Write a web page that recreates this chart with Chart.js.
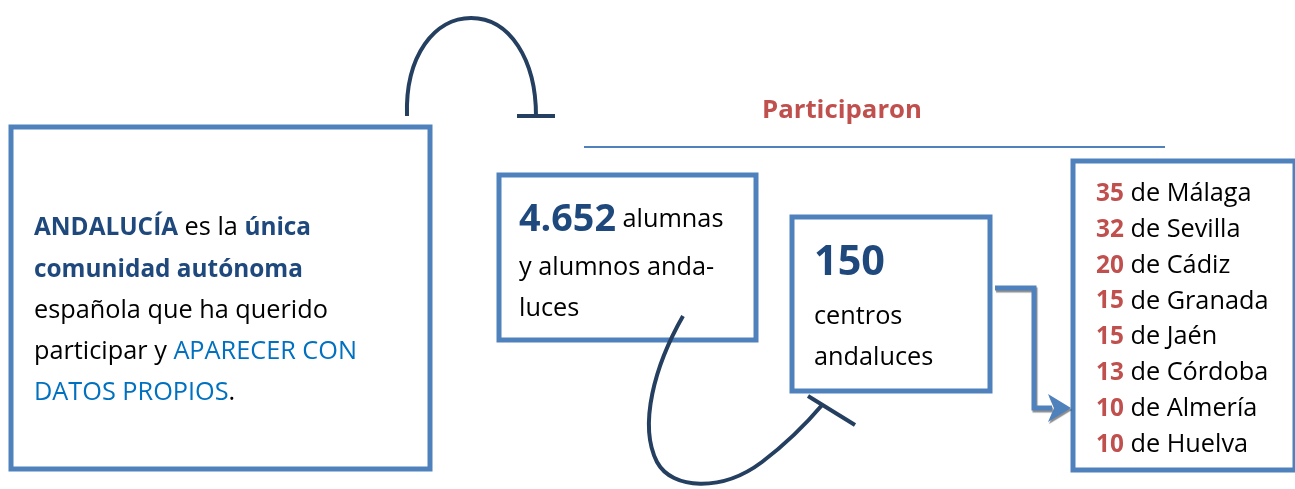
<!DOCTYPE html>
<html>
<head>
<meta charset="utf-8">
<script src="https://cdn.jsdelivr.net/npm/chart.js@4.4.1/dist/chart.umd.min.js"></script>
<style>
  body { margin: 0; background: #fff; }
  #wrap { width: 1295px; height: 489px; position: relative; }
</style>
</head>
<body>
<div id="wrap"><canvas id="c"></canvas></div>
<script>
// datos
const provincias = ["Málaga", "Sevilla", "Cádiz", "Granada", "Jaén", "Córdoba", "Almería", "Huelva"];
const centrosPorProvincia = [35, 32, 20, 15, 15, 13, 10, 10];
const totalAlumnos = "4.652";
const totalCentros = "150";
const titulo = "Participaron";

const AZUL = "#4f81bd";
const AZUL_OSC = "#1f497d";
const AZUL_CLARO = "#0070c0";
const ROJO = "#c0504d";
const TRAZO = "#243f60";
const FUENTE = "'Open Sans', sans-serif";

// tamaño de letra para que un texto ocupe un ancho dado
function ajusta(ctx, texto, bold, ancho) {
  ctx.font = (bold ? "bold " : "") + "100px " + FUENTE;
  return 100 * ancho / ctx.measureText(texto).width;
}

function runs(ctx, x, y, parts, base, baseBold) {
  ctx.textBaseline = "middle";
  ctx.textAlign = "left";
  let cx = x;
  for (const p of parts) {
    const s = p.size || (p.bold ? baseBold : base);
    ctx.font = (p.bold ? "bold " : "") + s + "px " + FUENTE;
    ctx.fillStyle = p.color || "#000";
    ctx.fillText(p.text, cx, y + 2);
    cx += ctx.measureText(p.text).width;
  }
}

function caja(ctx, x1, y1, x2, y2) {
  ctx.strokeStyle = AZUL;
  ctx.lineWidth = 5;
  ctx.strokeRect(x1, y1, x2 - x1, y2 - y1);
}

const infografia = {
  id: "infografia",
  afterDraw(chart) {
    const ctx = chart.ctx;
    const sx = chart.scales.x, sy = chart.scales.y;
    const X = v => sx.getPixelForValue(v);
    const Y = v => sy.getPixelForValue(v);
    ctx.save();

    const base = ajusta(ctx, "española que ha querido", false, 294);
    const baseBold = ajusta(ctx, "comunidad autónoma", true, 269);
    const tAlum = ajusta(ctx, totalAlumnos, true, 97);
    const tCen = ajusta(ctx, totalCentros, true, 71);
    const tTit = ajusta(ctx, titulo, true, 160);

    // cajas
    caja(ctx, X(11), Y(127), X(430), Y(469));
    caja(ctx, X(499), Y(175), X(756), Y(340));
    caja(ctx, X(792), Y(217), X(990), Y(391));
    caja(ctx, X(1073), Y(161), X(1295), Y(470));

    // titulo y linea
    ctx.font = "bold " + tTit + "px " + FUENTE;
    ctx.fillStyle = ROJO;
    ctx.textAlign = "center";
    ctx.textBaseline = "middle";
    ctx.fillText(titulo, X(842), Y(111));
    ctx.strokeStyle = AZUL;
    ctx.lineWidth = 2;
    ctx.beginPath();
    ctx.moveTo(X(584), Y(147));
    ctx.lineTo(X(1165), Y(147));
    ctx.stroke();

    // caja 1
    runs(ctx, X(34), Y(226), [
      { text: "ANDALUCÍA", bold: true, color: AZUL_OSC },
      { text: " es la " },
      { text: "única", bold: true, color: AZUL_OSC }
    ], base, baseBold);
    runs(ctx, X(34), Y(268), [{ text: "comunidad autónoma", bold: true, color: AZUL_OSC }], base, baseBold);
    runs(ctx, X(34), Y(309), [{ text: "española que ha querido" }], base, baseBold);
    runs(ctx, X(34), Y(350), [
      { text: "participar y " },
      { text: "APARECER CON", color: AZUL_CLARO }
    ], base, baseBold);
    runs(ctx, X(34), Y(391), [
      { text: "DATOS PROPIOS", color: AZUL_CLARO },
      { text: "." }
    ], base, baseBold);

    // caja 2
    runs(ctx, X(519), Y(218), [
      { text: totalAlumnos, bold: true, color: AZUL_OSC, size: tAlum },
      { text: " alumnas" }
    ], base, baseBold);
    runs(ctx, X(519), Y(266), [{ text: "y alumnos anda-" }], base, baseBold);
    runs(ctx, X(519), Y(307), [{ text: "luces" }], base, baseBold);

    // caja 3
    runs(ctx, X(814), Y(261), [{ text: totalCentros, bold: true, color: AZUL_OSC, size: tCen }], base, baseBold);
    runs(ctx, X(814), Y(315), [{ text: "centros" }], base, baseBold);
    runs(ctx, X(814), Y(356), [{ text: "andaluces" }], base, baseBold);

    // caja 4: lista de provincias
    const yIni = 192, paso = 35.8;
    provincias.forEach((p, i) => {
      runs(ctx, X(1096), Y(yIni + i * paso), [
        { text: String(centrosPorProvincia[i]), bold: true, color: ROJO },
        { text: " de " + p }
      ], base, baseBold);
    });

    // flecha superior
    ctx.strokeStyle = TRAZO;
    ctx.lineWidth = 4;
    ctx.lineCap = "butt";
    ctx.beginPath();
    ctx.moveTo(X(407), Y(116));
    ctx.bezierCurveTo(X(405), Y(55), X(435), Y(18), X(471), Y(18));
    ctx.bezierCurveTo(X(510), Y(18), X(536), Y(60), X(536), Y(116));
    ctx.stroke();
    ctx.beginPath();
    ctx.moveTo(X(517), Y(116));
    ctx.lineTo(X(555), Y(116));
    ctx.stroke();

    // flecha inferior
    ctx.beginPath();
    ctx.moveTo(X(683), Y(316));
    ctx.bezierCurveTo(X(655), Y(365), X(638), Y(425), X(657), Y(462));
    ctx.bezierCurveTo(X(672), Y(490), X(722), Y(492), X(762), Y(462));
    ctx.quadraticCurveTo(X(795), Y(437), X(823), Y(404));
    ctx.stroke();
    ctx.beginPath();
    ctx.moveTo(X(808), Y(396));
    ctx.lineTo(X(855), Y(425));
    ctx.stroke();

    // flecha acodada
    ctx.shadowColor = "rgba(0,0,0,0.45)";
    ctx.shadowOffsetX = 1;
    ctx.shadowOffsetY = 2;
    ctx.shadowBlur = 1;
    ctx.strokeStyle = AZUL;
    ctx.lineWidth = 5;
    ctx.beginPath();
    ctx.moveTo(X(995), Y(288));
    ctx.lineTo(X(1034), Y(288));
    ctx.lineTo(X(1034), Y(408));
    ctx.lineTo(X(1052), Y(408));
    ctx.stroke();
    ctx.fillStyle = AZUL;
    ctx.beginPath();
    ctx.moveTo(X(1048), Y(394));
    ctx.lineTo(X(1071), Y(408));
    ctx.lineTo(X(1048), Y(422));
    ctx.lineTo(X(1054), Y(408));
    ctx.closePath();
    ctx.fill();

    ctx.restore();
  }
};

new Chart(document.getElementById("c"), {
  type: "scatter",
  data: { datasets: [] },
  options: {
    responsive: true,
    maintainAspectRatio: false,
    animation: false,
    layout: { padding: 0 },
    plugins: { legend: { display: false }, tooltip: { enabled: false } },
    scales: {
      x: { type: "linear", min: 0, max: 1295, display: false },
      y: { type: "linear", min: 0, max: 489, reverse: true, display: false }
    }
  },
  plugins: [infografia]
});
</script>
</body>
</html>
